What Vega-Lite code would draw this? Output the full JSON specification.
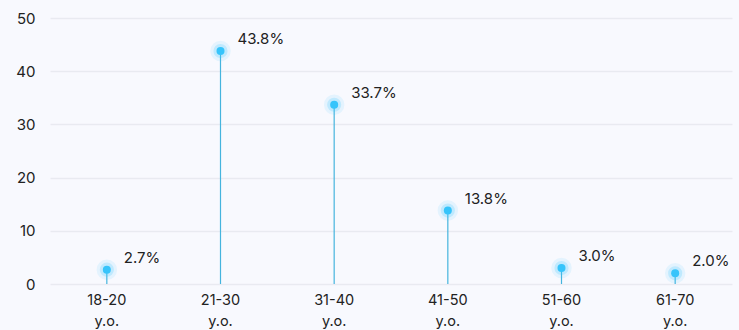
{
  "$schema": "https://vega.github.io/schema/vega-lite/v6.json",
  "width": 673,
  "height": 266,
  "autosize": {"type": "none"},
  "padding": {"left": 52, "top": 18, "right": 14, "bottom": 46},
  "background": "#f8f9fe",
  "config": {
    "view": {"stroke": null},
    "font": "Inter",
    "axis": {"labelFont": "Inter", "labelColor": "#222222", "labelFontSize": 15}
  },
  "data": {
    "values": [
      {"age": "18-20 y.o.", "share": 2.7},
      {"age": "21-30 y.o.", "share": 43.8},
      {"age": "31-40 y.o.", "share": 33.7},
      {"age": "41-50 y.o.", "share": 13.8},
      {"age": "51-60 y.o.", "share": 3.0},
      {"age": "61-70 y.o.", "share": 2.0}
    ]
  },
  "transform": [
    {"calculate": "format(datum.share, '.1f') + '%'", "as": "shareLabel"}
  ],
  "encoding": {
    "x": {
      "field": "age",
      "type": "nominal",
      "sort": null,
      "scale": {"paddingInner": 0, "paddingOuter": 0, "range": [-2, 680]},
      "axis": {
        "title": null,
        "labelAngle": 0,
        "domain": false,
        "ticks": false,
        "labelPadding": 9,
        "labelFontSize": 14.5,
        "labelLineHeight": 21,
        "labelExpr": "split(datum.label, ' ')"
      }
    },
    "y": {
      "field": "share",
      "type": "quantitative",
      "scale": {"domain": [0, 50]},
      "axis": {
        "title": null,
        "values": [0, 10, 20, 30, 40, 50],
        "domain": false,
        "ticks": false,
        "labelPadding": 17,
        "gridColor": "#e9eaf1",
        "gridWidth": 1.5
      }
    }
  },
  "layer": [
    {"mark": {"type": "rule", "color": "#45b4de", "strokeWidth": 1.2}, "encoding": {"y2": {"datum": 0}}},
    {"mark": {"type": "circle", "color": "#3cc8ff", "opacity": 0.1, "size": 420}},
    {"mark": {"type": "circle", "color": "#3cc8ff", "opacity": 0.22, "size": 200}},
    {"mark": {"type": "circle", "color": "#36c4fb", "opacity": 1, "size": 64}},
    {
      "mark": {"type": "text", "align": "left", "baseline": "middle", "dx": 17, "dy": -12, "fontSize": 15, "color": "#222222"},
      "encoding": {"text": {"field": "shareLabel", "type": "nominal"}}
    }
  ]
}
